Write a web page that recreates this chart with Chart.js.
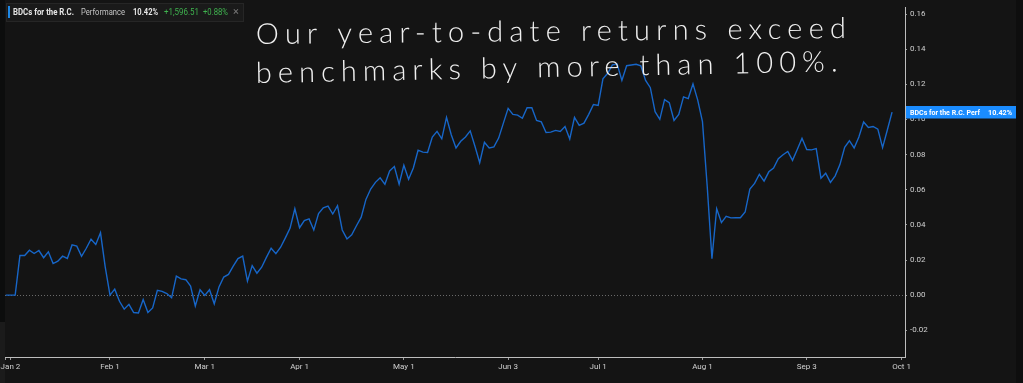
<!DOCTYPE html>
<html><head><meta charset="utf-8">
<script src="https://cdn.jsdelivr.net/npm/chart.js@4.4.1/dist/chart.umd.min.js"></script>
<style>html,body{margin:0;padding:0;background:#141414;overflow:hidden}</style>
</head><body>
<canvas id="c" width="1023" height="383" style="display:block;width:1023px;height:383px"></canvas>
<script>
// ---- data ----
const seriesName = 'BDCs for the R.C.';
const seriesShort = 'BDCs for the R.C. Perf';
// daily performance (fraction), one value per trading day starting Dec 29
const performance = [
 0,0,0,0.0226,0.0226,0.0256,0.0237,0.0254,0.0213,0.0247,
 0.018,0.0193,0.0222,0.0209,0.0286,0.0279,0.0221,0.0267,0.0318,0.0288,
 0.0355,0.016,0.000,0.0034,-0.0035,-0.008,-0.0052,-0.0099,-0.0101,-0.0025,
 -0.0099,-0.0073,0.0028,0.0022,0.0009,-0.0015,0.0108,0.0093,0.0088,0.0052,
 -0.0062,0.0031,-0.0002,0.0031,-0.0049,0.0047,0.0103,0.0118,0.0165,0.0208,
 0.0222,0.008,0.0168,0.0125,0.0159,0.0215,0.0267,0.0236,0.0273,0.0326,
 0.0382,0.0492,0.0384,0.0424,0.0434,0.0371,0.0464,0.0497,0.0507,0.0462,
 0.0509,0.0371,0.032,0.0343,0.0395,0.0444,0.0545,0.0604,0.0642,0.0668,
 0.0631,0.0707,0.0732,0.0632,0.0739,0.066,0.0724,0.0825,0.0814,0.0812,
 0.09,0.0932,0.089,0.1012,0.0913,0.0838,0.0876,0.09,0.0935,0.0848,
 0.0754,0.087,0.0838,0.0844,0.0894,0.0979,0.1063,0.1029,0.1025,0.1007,
 0.1067,0.1067,0.0994,0.0986,0.0926,0.0928,0.0938,0.0932,0.096,0.0889,
 0.1012,0.0967,0.0979,0.1029,0.1085,0.108,0.1231,0.1263,0.1311,0.1316,
 0.1222,0.1306,0.131,0.1314,0.1306,0.1222,0.1181,0.1044,0.1001,0.1113,
 0.1095,0.0994,0.1029,0.1129,0.1119,0.1203,0.111,0.0988,0.062,0.0208,
 0.0492,0.0413,0.0449,0.044,0.0441,0.0441,0.0473,0.0604,0.0636,0.0688,
 0.0649,0.0702,0.0724,0.0777,0.0799,0.0818,0.0767,0.0829,0.0893,0.0829,
 0.0827,0.0834,0.0666,0.0694,0.0642,0.0679,0.0743,0.0842,0.0879,0.0838,
 0.09,0.0986,0.0955,0.096,0.0945,0.084,0.094,0.1042
];
const tickIndex  = [0, 1, 22, 42, 62, 84, 106, 125, 147, 169, 189];
const tickLabels = ['', 'Jan 2', 'Feb 1', 'Mar 1', 'Apr 1', 'May 1', 'Jun 3', 'Jul 1', 'Aug 1', 'Sep 3', 'Oct 1'];
const yTickValues = [-0.02, 0, 0.02, 0.04, 0.06, 0.08, 0.10, 0.12, 0.14, 0.16];
const legendMetric = 'Performance';
const legendStats = ['10.42%', '+1,596.51', '+0.88%'];
const lastLabel = '10.42%';
const noteLines = ['Our year-to-date returns exceed', 'benchmarks by more than 100%.'];

// ---- chart ----
const points = performance.map((v, i) => ({x: i, y: v}));
const FONT = 'Roboto, "Noto Sans", sans-serif';

function fitText(ctx, text, x, y, w, font) {
  ctx.save();
  ctx.font = font;
  const nat = ctx.measureText(text).width;
  ctx.translate(x, y);
  if (nat > 0) ctx.scale(w / nat, 1);
  ctx.fillText(text, 0, 0);
  ctx.restore();
}

const decor = {
  id: 'decor',
  beforeDraw(chart) {
    const ctx = chart.ctx;
    ctx.save();
    ctx.fillStyle = '#141414';
    ctx.fillRect(0, 0, 1023, 383);
    ctx.fillStyle = '#0c0d0d';
    ctx.fillRect(0, 0, 5, 322);
    ctx.fillStyle = '#1b1b1b';
    ctx.fillRect(0, 322, 5, 61);
    ctx.fillStyle = '#0e0e0e';
    ctx.fillRect(1016, 0, 7, 383);
    ctx.restore();
  },
  beforeDatasetsDraw(chart) {
    const ctx = chart.ctx;
    const a = chart.chartArea;
    const y0 = Math.round(chart.scales.y.getPixelForValue(0)) + 0.5;
    ctx.save();
    ctx.strokeStyle = '#6a6a6a';
    ctx.lineWidth = 1;
    ctx.setLineDash([1, 2]);
    ctx.beginPath();
    ctx.moveTo(a.left, y0);
    ctx.lineTo(a.right, y0);
    ctx.stroke();
    ctx.restore();
  },
  afterDraw(chart) {
    const ctx = chart.ctx;
    const ys = chart.scales.y;
    ctx.save();
    // legend box
    ctx.fillStyle = '#1a1a1a';
    ctx.fillRect(6, 3, 238, 19);
    ctx.strokeStyle = '#262626';
    ctx.lineWidth = 1;
    ctx.strokeRect(6.5, 3.5, 237, 18);
    ctx.fillStyle = '#1e88e5';
    ctx.fillRect(8, 6, 2, 12);
    ctx.textBaseline = 'middle';
    ctx.textAlign = 'left';
    ctx.fillStyle = '#e6e6e6';
    fitText(ctx, seriesName, 13, 12.5, 61, 'bold 8.5px ' + FONT);
    ctx.fillStyle = '#c4c4c4';
    fitText(ctx, legendMetric, 81, 12.5, 44, '8.5px ' + FONT);
    ctx.fillStyle = '#e6e6e6';
    fitText(ctx, legendStats[0], 133, 12.5, 25, 'bold 8.5px ' + FONT);
    ctx.fillStyle = '#3fb34f';
    fitText(ctx, legendStats[1], 164, 12.5, 35, '8.5px ' + FONT);
    fitText(ctx, legendStats[2], 203, 12.5, 25, '8.5px ' + FONT);
    ctx.fillStyle = '#777';
    ctx.font = '11px ' + FONT;
    ctx.fillText('\u00d7', 233, 12.5);

    // last value tag on right axis
    const yLast = ys.getPixelForValue(performance[performance.length - 1]);
    ctx.fillStyle = '#1a8cff';
    ctx.fillRect(906, Math.round(yLast - 6), 110, 12.5);
    ctx.fillStyle = '#ffffff';
    fitText(ctx, seriesShort, 910, yLast + 0.5, 70, 'bold 8px ' + FONT);
    fitText(ctx, lastLabel, 988, yLast + 0.5, 24, 'bold 8px ' + FONT);

    // handwritten note
    ctx.textAlign = 'left';
    ctx.textBaseline = 'alphabetic';
    ctx.fillStyle = '#f0f0f0';
    ctx.font = '300 29px Lato, "Open Sans", sans-serif';
    const specs = [
      {x: 256, y: 44, w: 590, rot: -0.01},
      {x: 256, y: 83, w: 582, rot: -0.02}
    ];
    noteLines.forEach((t, i) => {
      const s = specs[i];
      ctx.save();
      ctx.translate(s.x, s.y);
      ctx.rotate(s.rot);
      ctx.letterSpacing = '0px';
      const nat = ctx.measureText(t).width;
      if ('letterSpacing' in ctx) {
        ctx.letterSpacing = ((s.w - nat) / (t.length - 1)).toFixed(2) + 'px';
        ctx.fillText(t, 0, 0);
      } else {
        ctx.scale(s.w / nat, 1);
        ctx.fillText(t, 0, 0);
      }
      ctx.restore();
    });
    ctx.restore();
  }
};

new Chart(document.getElementById('c'), {
  type: 'line',
  data: {
    datasets: [{
      label: seriesName,
      data: points,
      borderColor: '#1766c8',
      borderWidth: 1.4,
      pointRadius: 0,
      tension: 0,
      fill: false
    }]
  },
  options: {
    responsive: false,
    animation: false,
    devicePixelRatio: 1,
    layout: { padding: { left: 5, top: 3, right: 0, bottom: 0 }, autoPadding: false },
    plugins: { legend: { display: false }, tooltip: { enabled: false } },
    scales: {
      x: {
        type: 'linear',
        min: -0.15,
        max: 189.73,
        afterFit(s) { s.height = 26; },
        afterBuildTicks(s) { s.ticks = tickIndex.map(v => ({value: v})); },
        border: { display: true, color: '#bdbdbd', width: 1 },
        grid: { drawOnChartArea: false, drawTicks: true, tickLength: 3, tickColor: '#9a9a9a' },
        ticks: {
          autoSkip: false, maxRotation: 0, padding: 2,
          color: '#d0d0d0', font: { family: FONT, size: 8 },
          callback(v, i) { return tickLabels[i]; }
        }
      },
      y: {
        position: 'right',
        min: -0.0352,
        max: 0.16356,
        afterFit(s) { s.width = 118; },
        afterBuildTicks(s) { s.ticks = yTickValues.map(v => ({value: v})); },
        border: { display: true, color: '#bdbdbd', width: 1 },
        grid: { drawOnChartArea: false, drawTicks: true, tickLength: 2, tickColor: '#9a9a9a' },
        ticks: {
          padding: 3, color: '#d0d0d0', font: { family: FONT, size: 8 },
          callback(v) { return v.toFixed(2); }
        }
      }
    }
  },
  plugins: [decor]
});
</script>
</body></html>
